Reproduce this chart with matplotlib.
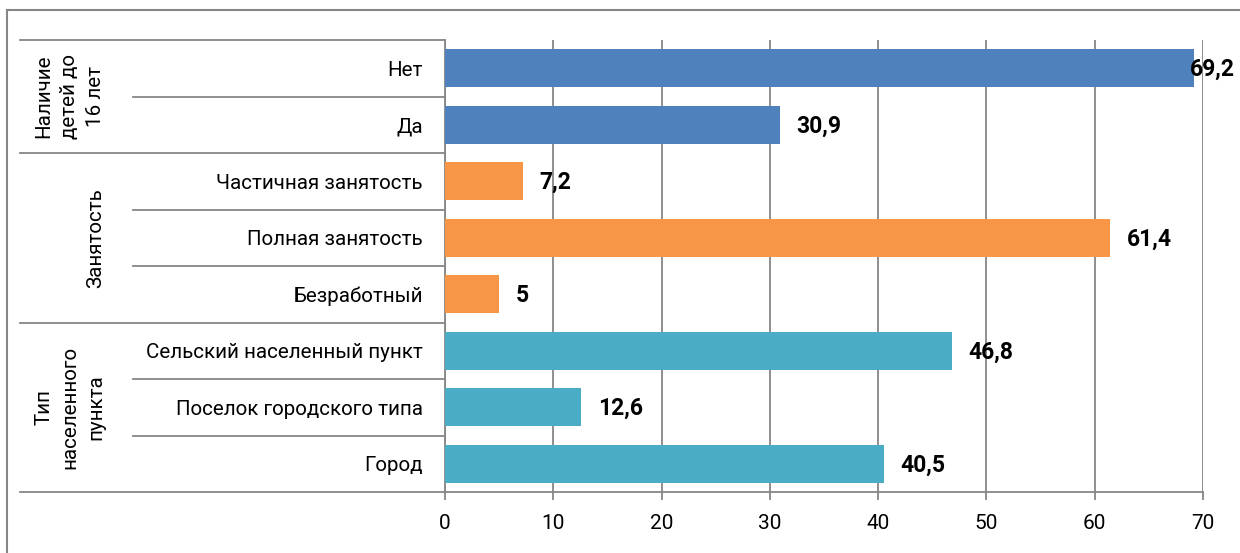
import matplotlib.pyplot as plt
from matplotlib import transforms
from matplotlib.lines import Line2D

plt.rcParams['font.family'] = ['Roboto', 'DejaVu Sans']

# data, top to bottom
categories = ['Нет', 'Да', 'Частичная занятость', 'Полная занятость', 'Безработный',
              'Сельский населенный пункт', 'Поселок городского типа', 'Город']
values = [69.2, 30.9, 7.2, 61.4, 5, 46.8, 12.6, 40.5]
groups = ['Наличие\nдетей до\n16 лет', 'Занятость', 'Тип\nнаселенного\nпункта']
group_sizes = [2, 3, 3]
group_colors = ['#4F81BD', '#F79646', '#4BACC6']

W, H = 1240, 553
GRAY = '#868686'

fig = plt.figure(figsize=(W / 100, H / 100), dpi=100)
ax = fig.add_axes([445 / W, 61 / H, 758 / W, 452 / H])

colors = []
for c, n in zip(group_colors, group_sizes):
    colors += [c] * n
pos = list(range(len(categories)))

ax.barh(pos, values, height=0.67, color=colors, zorder=3)
ax.set_xlim(0, 70)
ax.set_ylim(len(categories) - 0.5, -0.5)
ax.set_xticks(range(0, 71, 10))
ax.set_yticks(pos)
ax.set_yticklabels(categories, fontsize=14.8)
ax.tick_params(axis='y', length=0, pad=16)
ax.tick_params(axis='x', length=6, width=1.3, color=GRAY, pad=10, labelsize=15)
ax.grid(axis='x', color=GRAY, lw=1.3, zorder=0)
for s in ['top', 'right']:
    ax.spines[s].set_visible(False)
for s in ['left', 'bottom']:
    ax.spines[s].set_color(GRAY)
    ax.spines[s].set_linewidth(1.3)

# value labels
for p, v in zip(pos, values):
    txt = f'{v:g}'.replace('.', ',')
    off = 12 if v < 65 else -3
    ax.annotate(txt, (v, p), xytext=(off, -1), textcoords='offset points',
                ha='left', va='center', fontsize=16.5, fontweight='bold', zorder=4)

# category table lines on the left
blend = transforms.blended_transform_factory(fig.transFigure, ax.transData)
bounds = [-0.5]
for n in group_sizes:
    bounds.append(bounds[-1] + n)
inner = [b + 0.5 for b in pos[:-1] if b + 0.5 not in bounds]
for y in inner:
    ax.add_line(Line2D([133 / W, 445 / W], [y, y], transform=blend, color=GRAY,
                       lw=1.3, clip_on=False))
for y in bounds:
    ax.add_line(Line2D([20 / W, 445 / W], [y, y], transform=blend, color=GRAY,
                       lw=1.3, clip_on=False))

# group labels
for g, lo, hi in zip(groups, bounds[:-1], bounds[1:]):
    ax.text(105 / W, (lo + hi) / 2, g, transform=blend, rotation=90, ha='right',
            va='center', multialignment='center', fontsize=14.8, linespacing=1.45)

# chart border
fig.add_artist(Line2D([7 / W, 7 / W], [0, 1 - 10 / H], color=GRAY, lw=1.5))
fig.add_artist(Line2D([7 / W, 1], [1 - 10 / H, 1 - 10 / H], color=GRAY, lw=1.5))

fig.savefig('out.png', dpi=100)
